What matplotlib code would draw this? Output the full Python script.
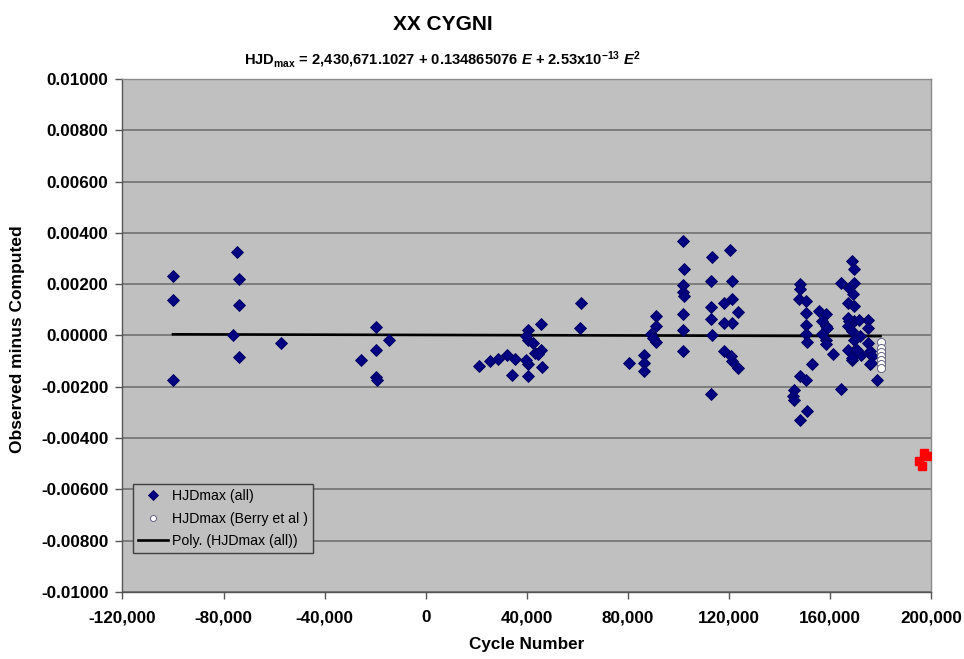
import numpy as np
import matplotlib
matplotlib.use("Agg")
import matplotlib.pyplot as plt
from matplotlib.ticker import FuncFormatter, MultipleLocator

plt.rcParams['font.family'] = ['Liberation Sans', 'DejaVu Sans']
plt.rcParams['font.weight'] = 'bold'
plt.rcParams['mathtext.fontset'] = 'custom'
plt.rcParams['mathtext.rm'] = 'Liberation Sans:bold'
plt.rcParams['mathtext.bf'] = 'Liberation Sans:bold'
plt.rcParams['mathtext.it'] = 'Liberation Sans:bold:italic'

# ---- data ----
all_cycle = [
    -100000, -100000, -100000, -74800, -73800, -73800, -73800, -76200, -57300,
    -19800, -19800, -19800, -19300, -25400, -14500,
    21100, 25600, 28700, 32300, 35200, 34100, 40400, 40400, 40400, 39800, 39800,
    42400, 43100, 45700, 45700, 46000, 40700, 44500, 61300, 60900,
    80600, 86600, 86600, 86600, 89200, 91200, 91200, 91200, 90000,
    102000, 102000, 102000, 102000, 102000, 102000, 102400, 102400,
    113200, 113200, 112900, 112900, 112900, 112900,
    120600, 121200, 121200, 121200, 121200, 117900, 117900, 117900, 123700, 123700, 120900,
    148100, 148100, 148100, 147900, 150500, 150500, 150500, 150500, 150500, 150800, 150800,
    155700, 158400, 158400, 158400, 158400, 156700, 156700, 161400, 152900,
    145900, 145200, 145900, 148200, 158900,
    164300, 164300, 168700, 169600, 169600, 169600, 169600, 169600, 167600, 167600,
    169300, 167000, 167000, 167000, 167000, 168700, 168700, 172000, 169600,
    175200, 175200, 175200, 176000, 172200, 176700, 176000, 178600, 176300,
    171600, 170800, 168800,
]
all_oc = [
    0.00233, 0.00137, -0.00172, 0.00325, 0.00221, 0.00117, -0.00083, 0.00000, -0.00029,
    0.00034, -0.00057, -0.00163, -0.00172, -0.00094, -0.00018,
    -0.00120, -0.00098, -0.00091, -0.00075, -0.00091, -0.00155, 0.00023, -0.00016, -0.00113, -0.00003, -0.00094,
    -0.00029, -0.00068, -0.00055, 0.00043, -0.00124, -0.00159, -0.00074, 0.00126, 0.00030,
    -0.00107, -0.00078, -0.00107, -0.00139, 0.00004, 0.00075, 0.00036, -0.00026, -0.00009,
    0.00369, 0.00195, 0.00169, 0.00082, 0.00021, -0.00062, 0.00261, 0.00153,
    0.00305, 0.00000, 0.00212, 0.00112, 0.00065, -0.00227,
    0.00333, 0.00211, 0.00144, 0.00050, -0.00100, 0.00128, 0.00050, -0.00062, 0.00091, -0.00126, -0.00081,
    0.00199, 0.00180, -0.00159, 0.00144, 0.00134, 0.00089, 0.00039, 0.00004, -0.00172, -0.00026, -0.00295,
    0.00095, 0.00082, 0.00036, -0.00016, -0.00035, 0.00056, 0.00004, -0.00074, -0.00113,
    -0.00211, -0.00237, -0.00250, -0.00330, 0.00030,
    0.00205, -0.00208, 0.00290, 0.00260, 0.00205, 0.00114, 0.00056, -0.00061, 0.00186, 0.00056,
    0.00160, 0.00128, 0.00069, 0.00036, -0.00055, 0.00017, -0.00094, -0.00003, -0.00016,
    0.00062, 0.00030, -0.00029, -0.00061, -0.00078, -0.00081, -0.00113, -0.00172, -0.00107,
    0.00062, -0.00055, -0.00086,
]
berry_cycle = [180100, 180100, 180100, 180100, 180100, 180100, 180100]
berry_oc = [-0.00024, -0.00050, -0.00065, -0.00080, -0.00095, -0.00110, -0.00128]
extra_cycle = [197300, 195300, 196500, 198800]
extra_oc = [-0.00460, -0.00488, -0.00510, -0.00470]

# polynomial trendline of HJDmax (all): c2*E^2 + c1*E + c0
trend_coef = [0.0, -2.5e-10, 0.00002]
trend_range = [-100000, 180000]

x_ticks = [-120000, -80000, -40000, 0, 40000, 80000, 120000, 160000, 200000]

# ---- figure ----
fig = plt.figure(figsize=(9.64, 6.59), dpi=100)
ax = fig.add_axes([0.127, 0.1017, 0.8388, 0.7785])
ax.set_facecolor('#C0C0C0')

ax.set_xlim(-120000, 200000)
ax.set_ylim(-0.01, 0.01)
ax.yaxis.set_major_locator(MultipleLocator(0.002))
ax.set_xticks(x_ticks)
ax.yaxis.set_major_formatter(FuncFormatter(lambda v, p: f"{v:.5f}"))
ax.xaxis.set_major_formatter(FuncFormatter(lambda v, p: f"{v:,.0f}"))
ax.grid(axis='y', color='#6a6a6a', linewidth=1.1)
ax.set_axisbelow(True)

for s in ['top', 'right']:
    ax.spines[s].set_color('#8a8a8a')
    ax.spines[s].set_linewidth(1.0)
for s in ['left', 'bottom']:
    ax.spines[s].set_color('#555555')
    ax.spines[s].set_linewidth(1.0)

ax.tick_params(axis='both', direction='out', length=5, width=1, color='#555555',
               labelsize=12.3, pad=5)
ax.tick_params(axis='x', pad=8)

xt = np.linspace(trend_range[0], trend_range[1], 12)
ax.plot(xt, np.polyval(trend_coef, xt), color='black', linewidth=1.9, zorder=2,
        label='Poly. (HJDmax (all))')

ax.plot(all_cycle, all_oc, linestyle='none', marker='D', markersize=6.2,
        markerfacecolor='#000080', markeredgecolor='#000060', markeredgewidth=0.6,
        zorder=3, label='HJDmax (all)')
ax.plot(berry_cycle, berry_oc, linestyle='none', marker='o', markersize=5.8,
        markerfacecolor='white', markeredgecolor='#50507a', markeredgewidth=0.6,
        zorder=4, label='HJDmax (Berry et al )')
ax.plot(extra_cycle, extra_oc, linestyle='none', marker='s', markersize=6,
        markerfacecolor='#ff0000', markeredgecolor='#ff0000', zorder=4,
        clip_on=True)

h, l = ax.get_legend_handles_labels()
order = [1, 2, 0]
leg = ax.legend([h[i] for i in order], [l[i] for i in order],
                loc='lower left', bbox_to_anchor=(0.013, 0.076), borderaxespad=0,
                fancybox=False, framealpha=1, facecolor='#C0C0C0', edgecolor='#404040',
                prop={'size': 10.2, 'weight': 'normal'}, handlelength=2.1,
                labelspacing=0.6, handletextpad=0.3, borderpad=0.35, markerscale=0.75)
leg.get_frame().set_linewidth(1.0)

ax.set_xlabel('Cycle Number', fontsize=12.3, fontweight='bold')
ax.xaxis.set_label_coords(0.5, -0.087)
ax.set_ylabel('Observed minus Computed', fontsize=12.5, fontweight='bold')
ax.yaxis.set_label_coords(-0.1206, 0.493)

fig.text(0.4595, 1 - 25 / 659, 'XX CYGNI', ha='center', va='center',
         fontsize=15, fontweight='bold')
fig.text(0.4595, 1 - 60 / 659,
         r'HJD$_{\mathrm{max}}$ = 2,430,671.1027 + 0.134865076 $\mathit{E}$ + 2.53x10$^{\mathrm{-13}}$ $\mathit{E}^{\mathrm{2}}$',
         ha='center', va='center', fontsize=10.6, fontweight='bold')

fig.savefig('out.png', dpi=100)
